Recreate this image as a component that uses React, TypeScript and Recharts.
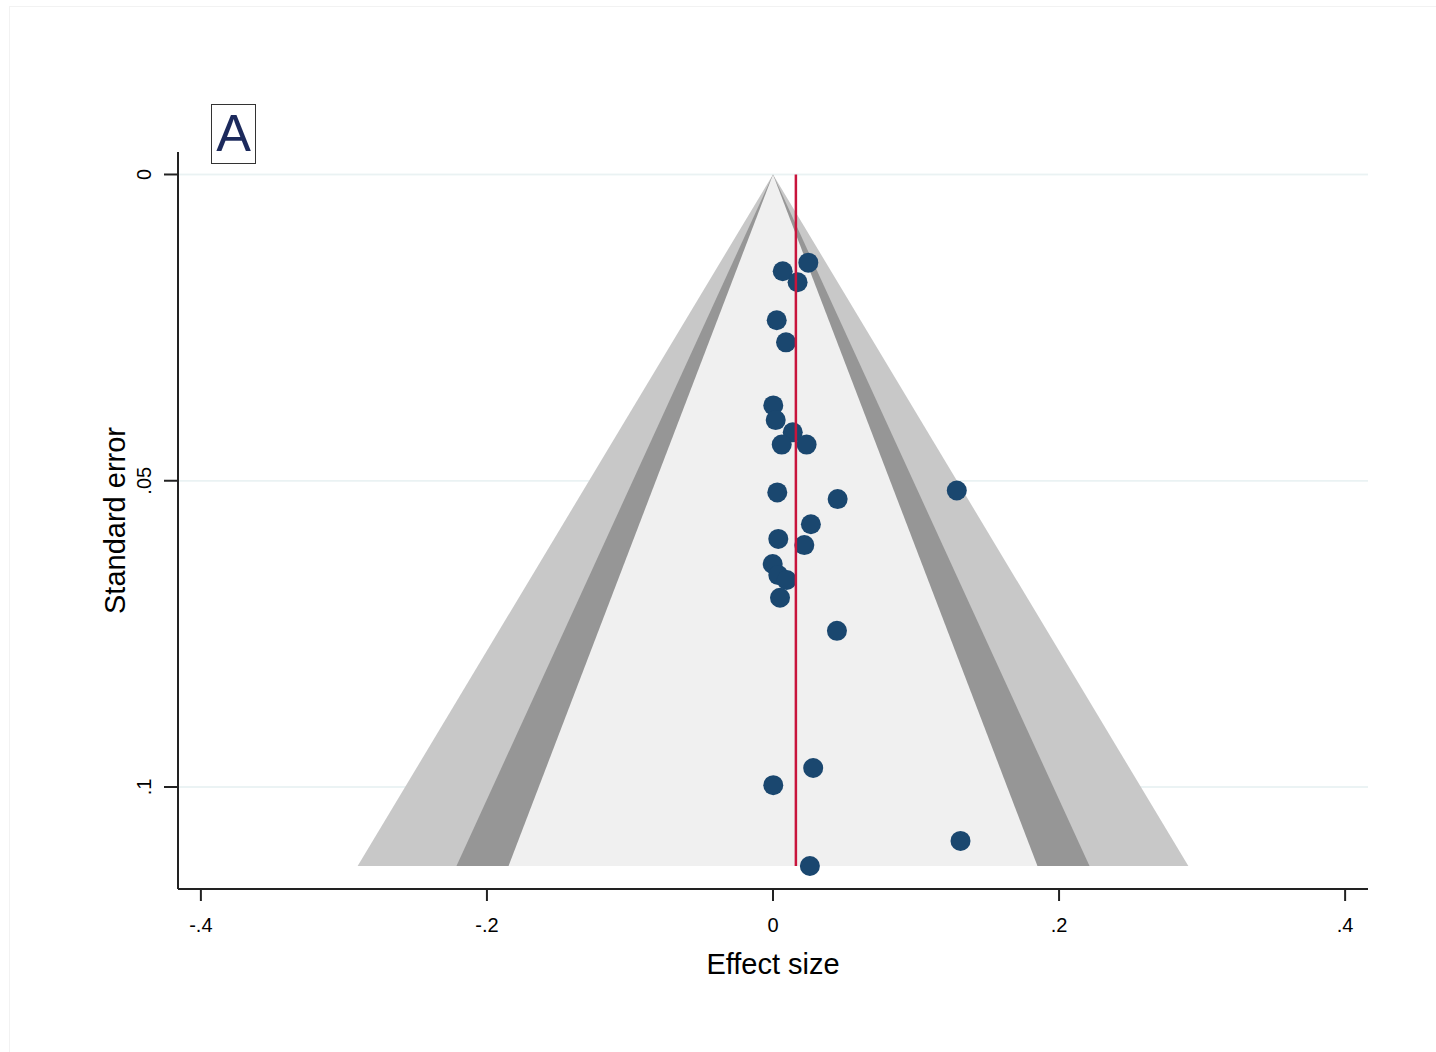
import {
  ComposedChart,
  Area,
  Scatter,
  XAxis,
  YAxis,
} from 'recharts';

const FONT = '"Liberation Sans", Arial, sans-serif';

// axis ticks
const xTicks = [-0.4, -0.2, 0, 0.2, 0.4];
const yTicks = [0, 0.05, 0.1];
const xDomain = [-0.416, 0.416];

// study estimates (effect size, standard error)
const studyEffect = [
  0.0247, 0.0068, 0.0172, 0.0026, 0.0091, 0.0002, 0.0019, 0.0138, 0.0061,
  0.0235, 0.003, 0.0452, 0.1285, 0.0265, 0.0037, 0.0219, -0.0002, 0.0037,
  0.0096, 0.0049, 0.0447, 0.0281, 0.0002, 0.1311, 0.0258,
];
const studySE = [
  0.0144, 0.0158, 0.0176, 0.0238, 0.0274, 0.0377, 0.0401, 0.0421, 0.0441,
  0.0441, 0.0519, 0.053, 0.0516, 0.0571, 0.0595, 0.0605, 0.0636, 0.0654,
  0.0662, 0.0691, 0.0745, 0.0969, 0.0997, 0.1088, 0.1129,
];

// pooled estimate
const pooledEffect = 0.016;

// contour funnel: 99%, 95%, 90% half-widths at the base of the funnel
const funnelBaseSE = 0.1129;
const contourLevels = ['99%', '95%', '90%'];
const contourHalfWidths = [0.2904, 0.2213, 0.1849];
const contourColors = ['#c8c8c8', '#969696', '#f0f0f0'];

const studies = studyEffect.map((x, i) => ({ x, se: studySE[i] }));
const pooledLine = [
  { x: pooledEffect, se: 0 },
  { x: pooledEffect, se: funnelBaseSE },
];

function contourData(w: number) {
  return [
    { x: -w, band: [funnelBaseSE, funnelBaseSE] },
    { x: 0, band: [0, funnelBaseSE] },
    { x: w, band: [funnelBaseSE, funnelBaseSE] },
  ];
}

function stataNum(v: number) {
  if (v === 0) return '0';
  return String(v).replace('0.', '.');
}

function YTick(props: any) {
  const { x, y, payload } = props;
  const tx = x - 11;
  return (
    <text
      x={tx}
      y={y}
      transform={`rotate(-90, ${tx}, ${y})`}
      textAnchor="middle"
      fontSize={20}
      fontFamily={FONT}
      fill="#000"
    >
      {stataNum(payload.value)}
    </text>
  );
}

export default function App() {
  return (
    <div
      style={{
        position: 'absolute',
        left: 0,
        top: 0,
        width: 1436,
        height: 1052,
        overflow: 'hidden',
        background: '#fff',
      }}
    >
      <div
        style={{
          position: 'absolute',
          left: 9,
          top: 6,
          width: 1500,
          height: 1100,
          borderLeft: '1px solid #f2f2f2',
          borderTop: '1px solid #f2f2f2',
        }}
      />
      <ComposedChart
        width={1436}
        height={1052}
        margin={{ top: 152, right: 68, left: 98, bottom: 63 }}
        style={{ position: 'absolute', left: 0, top: 0 }}
      >
        <XAxis
          type="number"
          dataKey="x"
          domain={xDomain}
          ticks={xTicks}
          tickFormatter={stataNum}
          allowDataOverflow
          height={100}
          tickSize={12}
          tickMargin={17}
          tick={{ fontSize: 20, fill: '#000', fontFamily: FONT }}
          tickLine={{ stroke: '#222', strokeWidth: 2 }}
          axisLine={{ stroke: '#222', strokeWidth: 2 }}
          label={{
            content: ({ viewBox }: any) => (
              <text
                x={viewBox.x + viewBox.width / 2}
                y={974}
                textAnchor="middle"
                fontSize={29}
                fontFamily={FONT}
                fill="#000"
              >
                Effect size
              </text>
            ),
          }}
        />
        <YAxis
          type="number"
          domain={[-0.00367, 0.11665]}
          ticks={yTicks}
          reversed
          allowDataOverflow
          width={80}
          tickSize={14}
          tickMargin={2}
          tick={<YTick />}
          tickLine={{ stroke: '#222', strokeWidth: 2 }}
          axisLine={{ stroke: '#222', strokeWidth: 2 }}
          label={{
            content: ({ viewBox }: any) => {
              const lx = 125;
              const ly = viewBox.y + viewBox.height / 2;
              return (
                <text
                  x={lx}
                  y={ly}
                  transform={`rotate(-90, ${lx}, ${ly})`}
                  textAnchor="middle"
                  fontSize={29}
                  fontFamily={FONT}
                  fill="#000"
                >
                  Standard error
                </text>
              );
            },
          }}
        />
        {/* horizontal grid lines, drawn under the funnel */}
        {yTicks.map((t) => (
          <Area
            key={`grid-${t}`}
            data={[
              { x: xDomain[0], grid: [t, t] },
              { x: xDomain[1], grid: [t, t] },
            ]}
            dataKey="grid"
            type="linear"
            stroke="#eaf2f3"
            strokeWidth={1.5}
            fill="none"
            dot={false}
            activeDot={false}
            isAnimationActive={false}
          />
        ))}
        {contourHalfWidths.map((w, i) => (
          <Area
            key={contourLevels[i]}
            name={contourLevels[i]}
            data={contourData(w)}
            dataKey="band"
            type="linear"
            stroke="none"
            fill={contourColors[i]}
            fillOpacity={1}
            isAnimationActive={false}
            dot={false}
            activeDot={false}
          />
        ))}
        <Scatter
          data={studies}
          dataKey="se"
          fill="#1a476f"
          isAnimationActive={false}
          shape={(p: any) => (
            <circle cx={p.cx} cy={p.cy} r={10} fill="#1a476f" />
          )}
        />
        {/* pooled effect line, on top of the markers */}
        <Scatter
          data={pooledLine}
          dataKey="se"
          line={{ stroke: '#c8143c', strokeWidth: 2.5 }}
          shape={() => <g />}
          isAnimationActive={false}
        />
      </ComposedChart>
      <div
        style={{
          position: 'absolute',
          left: 211,
          top: 104,
          width: 45,
          height: 60,
          boxSizing: 'border-box',
          border: '1.5px solid #333',
          fontFamily: FONT,
          fontSize: 52,
          lineHeight: '57px',
          textAlign: 'center',
          color: '#1c2a5c',
        }}
      >
        A
      </div>
    </div>
  );
}
